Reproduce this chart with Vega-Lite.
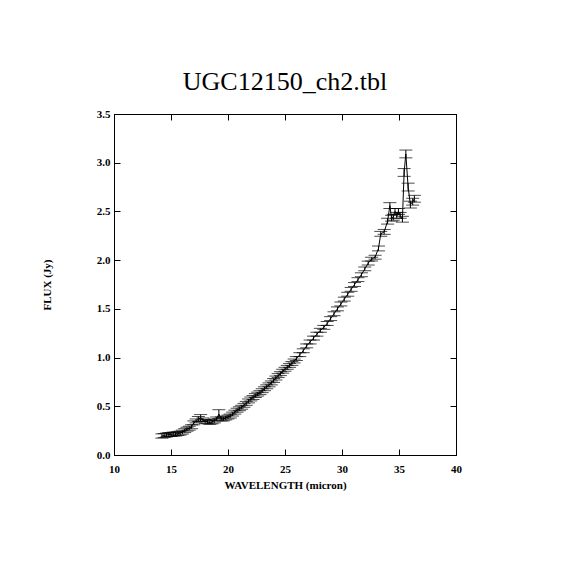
{
  "$schema": "https://vega.github.io/schema/vega-lite/v6.json",
  "width": 342,
  "height": 341,
  "autosize": "none",
  "padding": {"left": 114, "top": 114, "right": 114, "bottom": 115},
  "background": "white",
  "config": {
    "view": {"stroke": "black", "strokeWidth": 1},
    "font": "Liberation Serif",
    "axis": {"grid": false, "domainColor": "black", "tickColor": "black", "labelColor": "black", "titleColor": "black", "labelFont": "Liberation Serif", "titleFont": "Liberation Serif", "labelFontSize": 11, "labelFontWeight": "bold", "titleFontSize": 11, "titleFontWeight": "bold"}
  },
  "title": {"text": "UGC12150_ch2.tbl", "font": "Liberation Serif", "fontSize": 26, "fontWeight": "normal", "color": "black", "offset": 13},
  "resolve": {"axis": {"x": "independent", "y": "independent"}},
  "data": {"values": [
    {"wl": 14.2, "flux": 0.195, "err": 0.022},
    {"wl": 14.4, "flux": 0.2, "err": 0.02},
    {"wl": 14.6, "flux": 0.205, "err": 0.02},
    {"wl": 14.8, "flux": 0.21, "err": 0.02},
    {"wl": 15.0, "flux": 0.21, "err": 0.02},
    {"wl": 15.2, "flux": 0.215, "err": 0.02},
    {"wl": 15.4, "flux": 0.215, "err": 0.02},
    {"wl": 15.6, "flux": 0.22, "err": 0.02},
    {"wl": 15.8, "flux": 0.225, "err": 0.02},
    {"wl": 16.0, "flux": 0.235, "err": 0.02},
    {"wl": 16.2, "flux": 0.25, "err": 0.02},
    {"wl": 16.4, "flux": 0.265, "err": 0.02},
    {"wl": 16.6, "flux": 0.275, "err": 0.02},
    {"wl": 16.8, "flux": 0.29, "err": 0.02},
    {"wl": 17.0, "flux": 0.33, "err": 0.02},
    {"wl": 17.2, "flux": 0.35, "err": 0.02},
    {"wl": 17.4, "flux": 0.37, "err": 0.025},
    {"wl": 17.6, "flux": 0.38, "err": 0.035},
    {"wl": 17.8, "flux": 0.36, "err": 0.02},
    {"wl": 18.0, "flux": 0.345, "err": 0.02},
    {"wl": 18.2, "flux": 0.34, "err": 0.02},
    {"wl": 18.4, "flux": 0.335, "err": 0.02},
    {"wl": 18.6, "flux": 0.34, "err": 0.02},
    {"wl": 18.8, "flux": 0.35, "err": 0.02},
    {"wl": 19.0, "flux": 0.37, "err": 0.02},
    {"wl": 19.2, "flux": 0.42, "err": 0.045},
    {"wl": 19.4, "flux": 0.37, "err": 0.02},
    {"wl": 19.6, "flux": 0.37, "err": 0.02},
    {"wl": 19.8, "flux": 0.38, "err": 0.02},
    {"wl": 20.0, "flux": 0.39, "err": 0.02},
    {"wl": 20.2, "flux": 0.4, "err": 0.02},
    {"wl": 20.4, "flux": 0.42, "err": 0.02},
    {"wl": 20.6, "flux": 0.44, "err": 0.02},
    {"wl": 20.8, "flux": 0.46, "err": 0.02},
    {"wl": 21.0, "flux": 0.475, "err": 0.02},
    {"wl": 21.2, "flux": 0.49, "err": 0.02},
    {"wl": 21.4, "flux": 0.51, "err": 0.02},
    {"wl": 21.6, "flux": 0.53, "err": 0.02},
    {"wl": 21.8, "flux": 0.555, "err": 0.02},
    {"wl": 22.0, "flux": 0.575, "err": 0.02},
    {"wl": 22.2, "flux": 0.59, "err": 0.02},
    {"wl": 22.4, "flux": 0.61, "err": 0.02},
    {"wl": 22.6, "flux": 0.625, "err": 0.02},
    {"wl": 22.8, "flux": 0.64, "err": 0.02},
    {"wl": 23.0, "flux": 0.66, "err": 0.02},
    {"wl": 23.2, "flux": 0.68, "err": 0.02},
    {"wl": 23.4, "flux": 0.7, "err": 0.02},
    {"wl": 23.6, "flux": 0.72, "err": 0.02},
    {"wl": 23.8, "flux": 0.74, "err": 0.02},
    {"wl": 24.0, "flux": 0.765, "err": 0.02},
    {"wl": 24.2, "flux": 0.79, "err": 0.02},
    {"wl": 24.4, "flux": 0.815, "err": 0.02},
    {"wl": 24.6, "flux": 0.835, "err": 0.02},
    {"wl": 24.8, "flux": 0.86, "err": 0.02},
    {"wl": 25.0, "flux": 0.88, "err": 0.02},
    {"wl": 25.2, "flux": 0.9, "err": 0.02},
    {"wl": 25.4, "flux": 0.92, "err": 0.02},
    {"wl": 25.6, "flux": 0.94, "err": 0.02},
    {"wl": 25.8, "flux": 0.965, "err": 0.02},
    {"wl": 26.0, "flux": 0.99, "err": 0.02},
    {"wl": 26.3, "flux": 1.03, "err": 0.02},
    {"wl": 26.6, "flux": 1.07, "err": 0.02},
    {"wl": 26.9, "flux": 1.12, "err": 0.02},
    {"wl": 27.2, "flux": 1.16, "err": 0.02},
    {"wl": 27.5, "flux": 1.2, "err": 0.02},
    {"wl": 27.8, "flux": 1.24, "err": 0.02},
    {"wl": 28.1, "flux": 1.28, "err": 0.02},
    {"wl": 28.4, "flux": 1.31, "err": 0.02},
    {"wl": 28.7, "flux": 1.35, "err": 0.02},
    {"wl": 29.0, "flux": 1.4, "err": 0.02},
    {"wl": 29.3, "flux": 1.45, "err": 0.02},
    {"wl": 29.6, "flux": 1.5, "err": 0.02},
    {"wl": 29.9, "flux": 1.55, "err": 0.02},
    {"wl": 30.2, "flux": 1.6, "err": 0.02},
    {"wl": 30.5, "flux": 1.65, "err": 0.02},
    {"wl": 30.8, "flux": 1.7, "err": 0.02},
    {"wl": 31.1, "flux": 1.75, "err": 0.02},
    {"wl": 31.4, "flux": 1.8, "err": 0.02},
    {"wl": 31.7, "flux": 1.85, "err": 0.02},
    {"wl": 32.0, "flux": 1.91, "err": 0.02},
    {"wl": 32.3, "flux": 1.97, "err": 0.02},
    {"wl": 32.6, "flux": 2.01, "err": 0.02},
    {"wl": 32.9, "flux": 2.03, "err": 0.02},
    {"wl": 33.2, "flux": 2.12, "err": 0.025},
    {"wl": 33.4, "flux": 2.27, "err": 0.025},
    {"wl": 33.7, "flux": 2.29, "err": 0.025},
    {"wl": 34.0, "flux": 2.4, "err": 0.03},
    {"wl": 34.2, "flux": 2.56, "err": 0.03},
    {"wl": 34.35, "flux": 2.43, "err": 0.03},
    {"wl": 34.5, "flux": 2.44, "err": 0.03},
    {"wl": 34.65, "flux": 2.5, "err": 0.03},
    {"wl": 34.8, "flux": 2.46, "err": 0.03},
    {"wl": 34.95, "flux": 2.5, "err": 0.03},
    {"wl": 35.1, "flux": 2.46, "err": 0.03},
    {"wl": 35.3, "flux": 2.42, "err": 0.03},
    {"wl": 35.45, "flux": 2.9, "err": 0.04},
    {"wl": 35.6, "flux": 3.09, "err": 0.04},
    {"wl": 35.8, "flux": 2.75, "err": 0.04},
    {"wl": 36.0, "flux": 2.57, "err": 0.035},
    {"wl": 36.2, "flux": 2.6, "err": 0.035},
    {"wl": 36.35, "flux": 2.63, "err": 0.035}
  ]},
  "layer": [
    {
      "mark": {"type": "line", "color": "black", "strokeWidth": 1},
      "encoding": {
        "x": {"field": "wl", "type": "quantitative", "scale": {"domain": [10, 40], "nice": false, "zero": false},
              "axis": {"orient": "bottom", "values": [10, 15, 20, 25, 30, 35, 40], "tickSize": -6, "labelPadding": 14, "title": "WAVELENGTH (micron)", "titlePadding": 5, "labelFlush": false}},
        "y": {"field": "flux", "type": "quantitative", "scale": {"domain": [0, 3.5], "nice": false},
              "axis": {"orient": "left", "values": [0, 0.5, 1, 1.5, 2, 2.5, 3, 3.5], "format": ".1f", "tickSize": -6, "labelPadding": 10, "title": "FLUX (Jy)", "titlePadding": 44, "labelFlush": false}}
      }
    },
    {
      "mark": {"type": "errorbar", "color": "black", "ticks": {"size": 13, "color": "black"}, "rule": {"color": "black", "strokeWidth": 1}},
      "encoding": {
        "x": {"field": "wl", "type": "quantitative", "axis": null},
        "y": {"field": "flux", "type": "quantitative", "axis": null},
        "yError": {"field": "err"}
      }
    },
    {
      "mark": {"type": "point", "opacity": 0},
      "encoding": {
        "x": {"field": "wl", "type": "quantitative", "axis": {"orient": "top", "values": [10, 15, 20, 25, 30, 35, 40], "tickSize": -6, "labels": false, "title": null}},
        "y": {"field": "flux", "type": "quantitative", "axis": {"orient": "right", "values": [0, 0.5, 1, 1.5, 2, 2.5, 3, 3.5], "tickSize": -6, "labels": false, "title": null}}
      }
    }
  ]
}
